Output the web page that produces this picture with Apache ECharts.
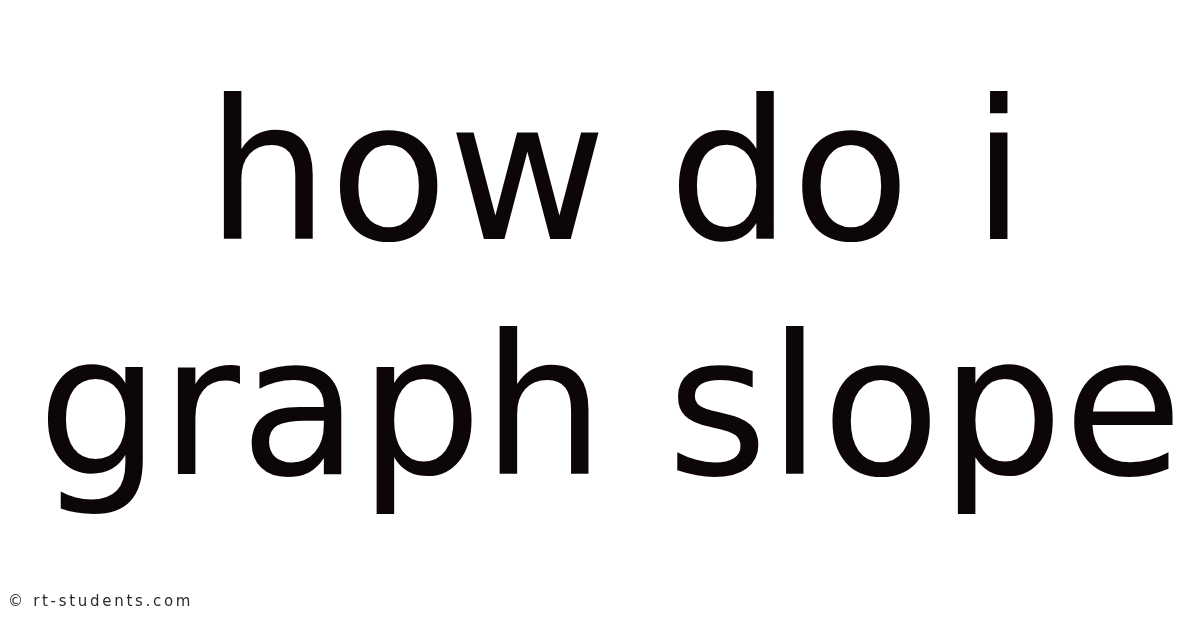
<!DOCTYPE html>
<html>
<head>
<meta charset="utf-8">
<script src="https://cdn.jsdelivr.net/npm/echarts@6/dist/echarts.min.js"></script>
<style>
html,body{margin:0;padding:0;background:#ffffff;}
#chart{width:1200px;height:628px;}
</style>
</head>
<body>
<div id="chart"></div>
<script>
var titleLines = ['how do i', 'graph slope'];
var watermarkText = '© rt-students.com';

var titleFont = '194px "DejaVu Sans"';
var lineCenters = [616, 610];
var lineTops = [92, 327];
var wmFont = '15px "DejaVu Sans"';
var wmSpacing = 2.7;

var chart = echarts.init(document.getElementById('chart'), null, {renderer: 'canvas'});
var elements = titleLines.map(function (t, i) {
  return {
    type: 'text',
    x: lineCenters[i],
    y: lineTops[i],
    style: {
      text: t,
      fill: '#0d0606',
      font: titleFont,
      align: 'center',
      verticalAlign: 'top'
    }
  };
});
// watermark with letter spacing
var ctx = document.createElement('canvas').getContext('2d');
ctx.font = wmFont;
var cx = 8;
watermarkText.split('').forEach(function (ch) {
  elements.push({
    type: 'text',
    x: cx,
    y: 595,
    style: {
      text: ch,
      fill: '#2a2a2a',
      font: wmFont,
      align: 'left',
      verticalAlign: 'top'
    }
  });
  cx += ctx.measureText(ch).width + wmSpacing;
});
chart.setOption({
  backgroundColor: '#ffffff',
  animation: false,
  graphic: {elements: elements}
});
</script>
</body>
</html>
